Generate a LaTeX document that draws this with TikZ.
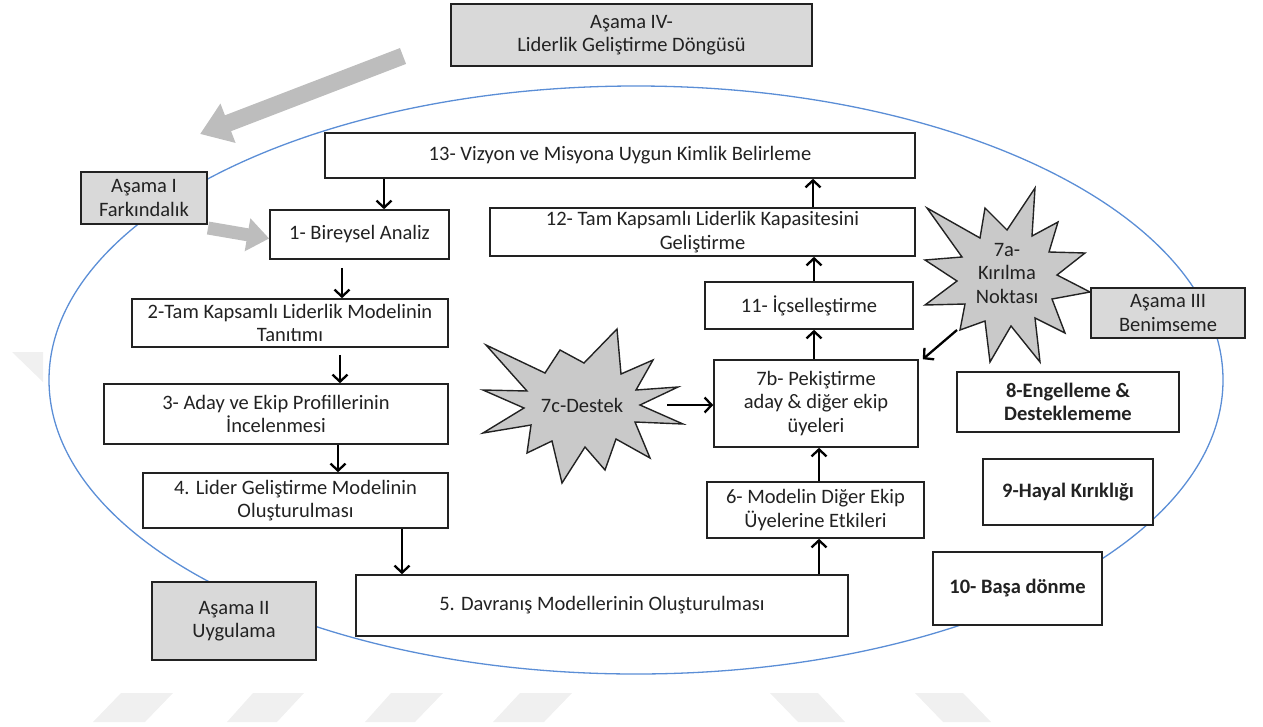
\documentclass[tikz,border=0pt]{standalone}
\usepackage{fontspec}
\setmainfont{Carlito}
\usetikzlibrary{arrows.meta,calc}
\definecolor{boxgray}{HTML}{D9D9D9}
\definecolor{stargray}{HTML}{C9C9C9}
\definecolor{ringblue}{HTML}{5B8ED6}
\definecolor{markgray}{HTML}{F0F0F0}
\definecolor{blockgray}{HTML}{BDBDBD}
\definecolor{ink}{HTML}{222222}
\begin{document}
\begin{tikzpicture}[x=1pt,y=-1pt,
  font=\fontsize{20.5}{23.5}\selectfont,
  stepbox/.style={draw=ink, line width=1.6pt, fill=white, align=center,
                  inner sep=0pt, text=ink},
  phase/.style={stepbox, fill=boxgray},
  boldbox/.style={stepbox, font=\fontsize{20.5}{23.5}\selectfont\bfseries},
  burst/.style={draw=ink, line width=1.4pt, fill=stargray, line join=miter},
  burstlabel/.style={align=center, inner sep=0pt, text=ink},
  flow/.style={draw=black, line width=2.3pt,
               -{Straight Barb[length=7pt,width=15pt]}},
  blockarrow/.style={draw=blockgray, line width=#1},
  ring/.style={draw=ringblue, line width=1.3pt},
  faintmark/.style={fill=markgray}
]
\useasboundingbox (0,0) rectangle (1263,726);

% faint background marks
\fill[faintmark] (12,352) -- (43,352) -- (43,382) -- cycle;
\fill[faintmark] (121,693) -- (173,693) -- (145,722) -- (93,722) -- cycle;
\fill[faintmark] (253,693) -- (304,693) -- (277,722) -- (227,722) -- cycle;
\fill[faintmark] (391,693) -- (443,693) -- (415,722) -- (365,722) -- cycle;
\fill[faintmark] (520,693) -- (572,693) -- (544,722) -- (493,722) -- cycle;
\fill[faintmark] (770,693) -- (818,693) -- (845,722) -- (798,722) -- cycle;
\fill[faintmark] (915,693) -- (963,693) -- (991,722) -- (943,722) -- cycle;

% the development cycle
\draw[ring] (636,380) ellipse [x radius=587, y radius=294];

% wide gray arrows
\coordinate (cycletail) at (403,56);
\coordinate (cyclehead) at (200,134);
\draw[blockarrow=17pt, -{Triangle[length=30pt,width=40pt]}, blockgray]
  (cycletail) -- (cyclehead);
\coordinate (awaretail) at (208,228);

% phase boxes
\node[phase, minimum width=361, minimum height=62] (p4) at (631.5,35)
  {Aşama IV-\\Liderlik Geliştirme Döngüsü};
\node[phase, minimum width=164, minimum height=78] (p2) at (234,621)
  {Aşama II\\Uygulama};

% steps
\node[stepbox, minimum width=590, minimum height=45] (b13) at (620,155.5)
  {13- Vizyon ve Misyona Uygun Kimlik Belirleme};
\node[stepbox, minimum width=179, minimum height=49] (b1) at (359.5,234.5)
  {1- Bireysel Analiz};
\node[stepbox, minimum width=316, minimum height=48] (b2) at (290,323)
  {2-Tam Kapsamlı Liderlik Modelinin\\Tanıtımı};
\node[stepbox, minimum width=344, minimum height=60] (b3) at (276,414)
  {3- Aday ve Ekip Profillerinin\\İncelenmesi};
\node[stepbox, minimum width=305, minimum height=55] (b4) at (295.5,500.5)
  {4. Lider Geliştirme Modelinin\\Oluşturulması};
\node[stepbox, minimum width=492, minimum height=61] (b5) at (602,605.5)
  {5. Davranış Modellerinin Oluşturulması};
\node[stepbox, minimum width=217, minimum height=56] (b6) at (815.5,510)
  {6- Modelin Diğer Ekip\\Üyelerine Etkileri};
\node[stepbox, minimum width=204, minimum height=87] (b7b) at (816,403.5)
  {7b- Pekiştirme\\aday \& diğer ekip\\üyeleri};
\node[stepbox, minimum width=208, minimum height=47] (b11) at (809,305.5)
  {11- İçselleştirme};
\node[stepbox, minimum width=425, minimum height=48] (b12) at (702.5,232)
  {12- Tam Kapsamlı Liderlik Kapasitesini\\Geliştirme};
\node[boldbox, minimum width=222, minimum height=60] (b8) at (1068,402)
  {8-Engelleme \&\\Desteklememe};
\node[boldbox, minimum width=170, minimum height=66] (b9) at (1068,492)
  {9-Hayal Kırıklığı};
\node[boldbox, minimum width=169, minimum height=73] (b10) at (1017.5,588.5)
  {10- Başa dönme};

% awareness arrow into step 1, then its phase box on top
\draw[blockarrow=13pt, -{Triangle[length=22pt,width=32pt]}, blockgray]
  (awaretail) -- ([yshift=-4pt]b1.west);
\node[phase, minimum width=126, minimum height=52] (p1) at (144,198)
  {Aşama I\\Farkındalık};

% bursts
\draw[burst, shift={(582,405)}]
  (-96,-60) -- (-37,-32) -- (-22,-55) -- (2,-42) -- (35,-76) -- (39,-31)
  -- (71,-45) -- (54,-15) -- (96,-18) -- (58,0) -- (101,19) -- (53,17)
  -- (68,53) -- (34,34) -- (23,65) -- (3,42) -- (-20,78) -- (-30,36)
  -- (-55,48) -- (-51,20) -- (-99,28) -- (-58,3) -- (-99,-15) -- (-55,-14)
  -- cycle;
\node[burstlabel] (s7c) at (582,405) {7c-Destek};

\draw[burst, shift={(1007,278)}]
  (-80,-70) -- (-27,-40) -- (-22,-70) -- (0,-48) -- (28,-90) -- (25,-42)
  -- (51,-56) -- (42,-26) -- (78,-25) -- (50,-3) -- (83,14) -- (45,21)
  -- (58,55) -- (28,40) -- (33,84) -- (4,48) -- (-17,84) -- (-22,43)
  -- (-47,52) -- (-42,26) -- (-82,27) -- (-50,3) -- (-82,-18) -- (-45,-21)
  -- cycle;
\node[burstlabel] (s7a) at (1007,273) {7a-\\Kırılma\\Noktası};

\node[phase, minimum width=154, minimum height=50] (p3) at (1168,313)
  {Aşama III\\Benimseme};

% flow between steps
\draw[flow] ([xshift=24.5pt]b1.north |- b13.south) -- ([xshift=24.5pt]b1.north);
\draw[flow, shorten <=8pt] ([xshift=52pt]b2.north |- b1.south) -- ([xshift=52pt]b2.north);
\draw[flow, shorten <=7pt] ([xshift=64pt]b3.north |- b2.south) -- ([xshift=64pt]b3.north);
\draw[flow] ([xshift=42.5pt]b4.north |- b3.south) -- ([xshift=42.5pt]b4.north);
\draw[flow] ([xshift=-200pt]b5.north |- b4.south) -- ([xshift=-200pt]b5.north);
\draw[flow] ([xshift=3.5pt]b6.south |- b5.north) -- ([xshift=3.5pt]b6.south);
\draw[flow] ([xshift=3pt]b7b.south |- b6.north) -- ([xshift=3pt]b7b.south);
\draw[flow] ([xshift=5pt]b11.south |- b7b.north) -- ([xshift=5pt]b11.south);
\draw[flow] ([xshift=111.5pt]b12.south |- b11.north) -- ([xshift=111.5pt]b12.south);
\draw[flow] ([xshift=110.5pt]b12.north) -- ([xshift=110.5pt]b12.north |- b13.south);

\coordinate (s7ctip) at (667,405);
\draw[flow] (s7ctip) -- (s7ctip -| b7b.west);
\coordinate (s7afoot) at (957,330);
\draw[flow] (s7afoot) -- ([xshift=4pt]b7b.north east);
\end{tikzpicture}
\end{document}
